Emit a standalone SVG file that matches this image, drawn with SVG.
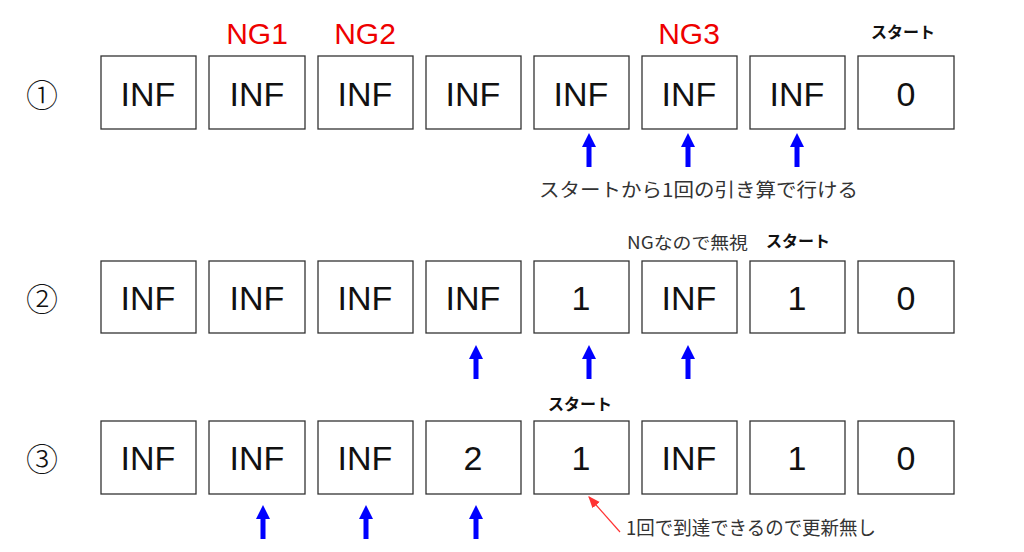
<svg xmlns="http://www.w3.org/2000/svg" width="1024" height="552" viewBox="0 0 1024 552">
<style>
.b{fill:#fff;stroke:#333;stroke-width:1.3}
.t{font-family:"Liberation Sans",Arial,sans-serif;font-size:34px;fill:#111;text-anchor:middle}
.n{font-family:"Noto Sans CJK JP",sans-serif;font-size:32px;font-weight:300;fill:#111;text-anchor:middle}
.r{font-family:"Liberation Sans",Arial,sans-serif;font-size:30px;fill:#e00;text-anchor:middle}
.s{font-family:"Noto Sans CJK JP",sans-serif;font-size:16px;font-weight:bold;fill:#111;text-anchor:middle}
.c{font-family:"Noto Sans CJK JP",sans-serif;font-size:19px;fill:#333}
.c2{font-family:"Noto Sans CJK JP",sans-serif;font-size:17px;fill:#333}
.u{fill:#00f}
</style>
<defs>
<g id="ar"><rect x="-2.5" y="12" width="5" height="22"/><polygon points="0,0 -7,14 7,14"/></g>
<marker id="rm" markerWidth="10" markerHeight="10" refX="9" refY="5" orient="auto"><path d="M0,1 L10,5 L0,9 z" fill="#f33"/></marker>
</defs>
<text class="n" x="42" y="107">①</text>
<text class="n" x="42" y="311">②</text>
<text class="n" x="42" y="471">③</text>
<text class="r" x="257" y="44">NG1</text>
<text class="r" x="365" y="44">NG2</text>
<text class="r" x="689" y="44">NG3</text>
<text class="s" x="903" y="38">スタート</text>
<text class="s" x="798" y="247">スタート</text>
<text class="s" x="580" y="410">スタート</text>
<text class="c2" x="627" y="249" textLength="121" lengthAdjust="spacingAndGlyphs">NGなので無視</text>
<text class="c" x="539" y="197" textLength="319" lengthAdjust="spacingAndGlyphs">スタートから1回の引き算で行ける</text>
<text class="c" x="626" y="535" textLength="250" lengthAdjust="spacingAndGlyphs">1回で到達できるので更新無し</text>
<g id="row1">
<rect class="b" x="101" y="56" width="95" height="73"/><text class="t" x="148" y="106">INF</text>
<rect class="b" x="209" y="56" width="96" height="73"/><text class="t" x="257" y="106">INF</text>
<rect class="b" x="318" y="56" width="95" height="73"/><text class="t" x="365" y="106">INF</text>
<rect class="b" x="426" y="56" width="95" height="73"/><text class="t" x="473" y="106">INF</text>
<rect class="b" x="534" y="56" width="95" height="73"/><text class="t" x="581" y="106">INF</text>
<rect class="b" x="642" y="56" width="95" height="73"/><text class="t" x="689" y="106">INF</text>
<rect class="b" x="750" y="56" width="95" height="73"/><text class="t" x="797" y="106">INF</text>
<rect class="b" x="858" y="56" width="96" height="73"/><text class="t" x="906" y="106">0</text>
</g>
<g id="row2">
<rect class="b" x="101" y="261" width="95" height="72"/><text class="t" x="148" y="310">INF</text>
<rect class="b" x="209" y="261" width="96" height="72"/><text class="t" x="257" y="310">INF</text>
<rect class="b" x="318" y="261" width="95" height="72"/><text class="t" x="365" y="310">INF</text>
<rect class="b" x="426" y="261" width="95" height="72"/><text class="t" x="473" y="310">INF</text>
<rect class="b" x="534" y="261" width="95" height="72"/><text class="t" x="581" y="310">1</text>
<rect class="b" x="642" y="261" width="95" height="72"/><text class="t" x="689" y="310">INF</text>
<rect class="b" x="750" y="261" width="95" height="72"/><text class="t" x="797" y="310">1</text>
<rect class="b" x="858" y="261" width="96" height="72"/><text class="t" x="906" y="310">0</text>
</g>
<g id="row3">
<rect class="b" x="101" y="421" width="95" height="73"/><text class="t" x="148" y="470">INF</text>
<rect class="b" x="209" y="421" width="96" height="73"/><text class="t" x="257" y="470">INF</text>
<rect class="b" x="318" y="421" width="95" height="73"/><text class="t" x="365" y="470">INF</text>
<rect class="b" x="426" y="421" width="95" height="73"/><text class="t" x="473" y="470">2</text>
<rect class="b" x="534" y="421" width="95" height="73"/><text class="t" x="581" y="470">1</text>
<rect class="b" x="642" y="421" width="95" height="73"/><text class="t" x="689" y="470">INF</text>
<rect class="b" x="750" y="421" width="95" height="73"/><text class="t" x="797" y="470">1</text>
<rect class="b" x="858" y="421" width="96" height="73"/><text class="t" x="906" y="470">0</text>
</g>
<g id="connectors" class="u">
<use href="#ar" x="589" y="133"/><use href="#ar" x="688" y="133"/><use href="#ar" x="797" y="133"/>
<use href="#ar" x="476" y="345"/><use href="#ar" x="589" y="345"/><use href="#ar" x="688" y="345"/>
<use href="#ar" x="263" y="505"/><use href="#ar" x="366" y="505"/><use href="#ar" x="476" y="505"/>
<line x1="620" y1="532" x2="589" y2="497" stroke="#f33" stroke-width="1.2" marker-end="url(#rm)"/>
</g>
</svg>
